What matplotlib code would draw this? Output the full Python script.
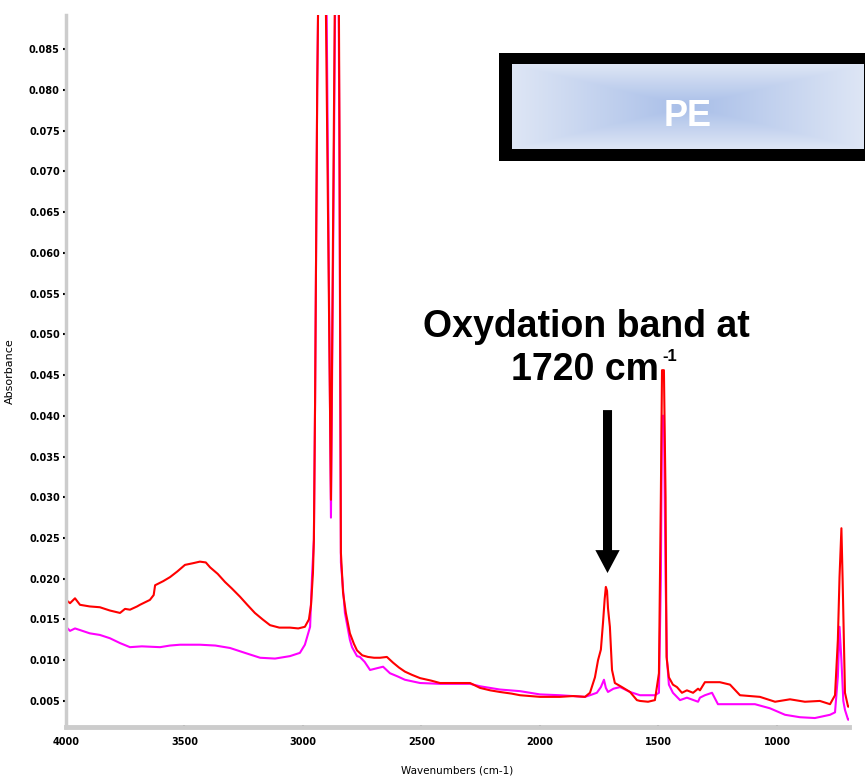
import numpy as np
import matplotlib.pyplot as plt
from matplotlib.patches import Rectangle

# spectrum: wavenumber (cm-1), absorbance
wn_red = [4000, 3983, 3962, 3941, 3900, 3857, 3815, 3772, 3751, 3730, 3700, 3688, 3646, 3630,
          3624, 3590, 3561, 3530, 3498, 3465, 3435, 3410, 3392, 3360, 3329, 3300, 3266, 3235,
          3203, 3170, 3139, 3100, 3055, 3020, 2992, 2975, 2966, 2958, 2954, 2949, 2940, 2925,
          2903, 2882, 2870, 2855, 2846, 2840, 2831, 2819, 2802, 2785, 2772, 2750, 2726, 2700,
          2675, 2646, 2620, 2595, 2570, 2540, 2506, 2460, 2422, 2350, 2295, 2253, 2210, 2169,
          2120, 2084, 2040, 2000, 1950, 1916, 1860, 1810, 1789, 1768, 1755, 1743, 1734, 1727,
          1722, 1717, 1713, 1705, 1696, 1684, 1654, 1620, 1591, 1578, 1544, 1515, 1498, 1490,
          1485, 1477, 1470, 1466, 1456, 1439, 1422, 1401, 1380, 1354, 1333, 1325, 1304, 1241,
          1198, 1156, 1072, 1008, 945, 882, 819, 776, 755, 743, 736, 728, 723, 716, 713, 700, 696]
abs_red = [.0174, .0170, .0176, .0168, .0166, .0165, .0161, .0158, .0163, .0162, .0166, .0168,
           .0174, .0180, .0192, .0197, .0202, .0209, .0217, .0219, .0221, .0220, .0214, .0206,
           .0196, .0188, .0178, .0168, .0158, .0150, .0143, .0140, .0140, .0139, .0141, .0150,
           .0168, .0207, .0248, .0416, .080, .120, .089, .0297, .075, .130, .075, .0232, .0183,
           .0158, .0133, .0120, .0112, .0106, .0104, .0103, .0103, .0104, .0097, .0091, .0086,
           .0082, .0078, .0075, .0072, .0072, .0072, .0066, .0063, .0061, .0059, .0057, .0056,
           .0055, .0055, .0055, .0056, .0055, .0060, .0079, .0100, .0113, .0146, .0175, .0190,
           .0185, .0164, .0141, .0088, .0072, .0067, .0061, .0051, .0050, .0049, .0051, .0084,
           .030, .0456, .0456, .030, .0104, .0079, .0070, .0067, .0060, .0063, .0060, .0065,
           .0063, .0073, .0073, .0070, .0057, .0055, .0049, .0052, .0049, .0050, .0046, .0057,
           .0125, .0202, .0262, .0200, .0100, .0060, .0043, .0043]

wn_mag = [4000, 3983, 3962, 3941, 3900, 3857, 3815, 3772, 3730, 3680, 3603, 3561, 3519, 3435,
          3370, 3308, 3245, 3181, 3118, 3055, 3013, 2992, 2970, 2962, 2954, 2949, 2940, 2927,
          2900, 2882, 2870, 2855, 2846, 2840, 2823, 2802, 2793, 2772, 2760, 2740, 2717, 2690,
          2662, 2633, 2600, 2570, 2506, 2422, 2295, 2253, 2169, 2084, 2000, 1916, 1810, 1789,
          1760, 1743, 1730, 1722, 1713, 1690, 1662, 1620, 1578, 1515, 1498, 1490, 1485, 1477,
          1470, 1464, 1456, 1439, 1409, 1380, 1333, 1325, 1304, 1274, 1249, 1156, 1093, 1030,
          966, 903, 840, 776, 755, 743, 736, 728, 720, 713, 700, 696]
abs_mag = [.0141, .0136, .0139, .0137, .0133, .0131, .0127, .0121, .0116, .0117, .0116, .0118,
           .0119, .0119, .0118, .0115, .0109, .0103, .0102, .0105, .0109, .0119, .0141, .0202,
           .0248, .0416, .080, .115, .089, .0275, .070, .125, .070, .0220, .0158, .0125, .0116,
           .0105, .0104, .0098, .0088, .0090, .0092, .0084, .0080, .0076, .0072, .0071, .0071,
           .0068, .0064, .0062, .0058, .0057, .0055, .0057, .0060, .0067, .0076, .0066, .0061,
           .0065, .0067, .0061, .0057, .0057, .0060, .020, .040, .040, .020, .0100, .0070, .0060,
           .0051, .0054, .0049, .0054, .0057, .0060, .0046, .0046, .0046, .0041, .0033, .0030,
           .0029, .0033, .0036, .0080, .0141, .0100, .0050, .0039, .0027, .0027]

y_ticks = [0.005, 0.010, 0.015, 0.020, 0.025, 0.030, 0.035, 0.040, 0.045,
           0.050, 0.055, 0.060, 0.065, 0.070, 0.075, 0.080, 0.085]
x_ticks = [4000, 3500, 3000, 2500, 2000, 1500, 1000]

W, H = 865, 778


def fx(px):
    return px / W


def fy(py):
    return 1 - py / H


fig = plt.figure(figsize=(W / 100, H / 100), dpi=100)
ax = fig.add_axes([fx(66), fy(727), fx(849) - fx(66), fy(15) - fy(727)])

ax.plot(wn_mag, abs_mag, color='#ff00ff', lw=1.5)
ax.plot(wn_red, abs_red, color='#ff0000', lw=1.5)

ax.set_xlim(4000, 696)
ax.set_ylim(0.0018, 0.0892)
ax.set_xticks(x_ticks)
ax.set_xticks(np.arange(3900, 650, -100), minor=True)
ax.set_yticks(y_ticks)
ax.set_yticklabels([f'{v:.3f}' for v in y_ticks])

for s in ['top', 'right']:
    ax.spines[s].set_visible(False)
ax.spines['left'].set_color('#cccccc')
ax.spines['left'].set_linewidth(2.5)
ax.spines['bottom'].set_color('#cccccc')
ax.spines['bottom'].set_linewidth(3.5)

ax.tick_params(axis='both', which='both', color='black', labelsize=7)
ax.tick_params(axis='y', direction='out', length=2.5, width=1.5, pad=2)
ax.tick_params(axis='x', which='major', direction='inout', length=3, width=1.5, pad=6)
ax.tick_params(axis='x', which='minor', direction='inout', length=2, width=1.5)
for lbl in ax.get_xticklabels() + ax.get_yticklabels():
    lbl.set_fontweight('bold')

ax.set_xlabel('Wavenumbers (cm-1)', fontsize=7.5, labelpad=13)
ax.set_ylabel('Absorbance', fontsize=8, labelpad=10)

# arrow pointing at the carbonyl band
ax.annotate('', xy=(1715, 0.0207), xytext=(1715, 0.0407),
            arrowprops=dict(arrowstyle='simple,head_length=1.65,head_width=1.75,tail_width=0.65',
                            mutation_scale=10, fc='black', ec='none', shrinkA=0, shrinkB=0))

bold = dict(family='Liberation Sans', weight='bold', color='black')
fig.text(fx(586), fy(337), 'Oxydation band at', fontsize=27, ha='center', va='baseline', **bold)
fig.text(fx(659), fy(380), '1720 cm', fontsize=27, ha='right', va='baseline', **bold)
fig.text(fx(662), fy(361), '-1', fontsize=12, ha='left', va='baseline', **bold)

# PE label box
fig.patches.append(Rectangle((fx(499), fy(161)), fx(870) - fx(499), fy(53) - fy(161),
                             transform=fig.transFigure, fc='black', ec='none', zorder=5))
box = fig.add_axes([fx(512), fy(149), fx(864) - fx(512), fy(64) - fy(149)], zorder=6)
u = np.linspace(-1, 1, 400)
v = np.linspace(-1, 1, 100)
U, V = np.meshgrid(u, v)
t = np.maximum(np.abs(U), np.abs(V))[..., None]
c0 = np.array([168, 190, 232]) / 255
c1 = np.array([222, 230, 245]) / 255
box.imshow(c0 + (c1 - c0) * t, aspect='auto', extent=(0, 1, 0, 1))
box.set_axis_off()
box.text(0.5, 0.38, 'PE', transform=box.transAxes, fontsize=26, ha='center', va='center',
         family='Liberation Sans', weight='bold', color='white')

fig.savefig('out.png', dpi=100)
